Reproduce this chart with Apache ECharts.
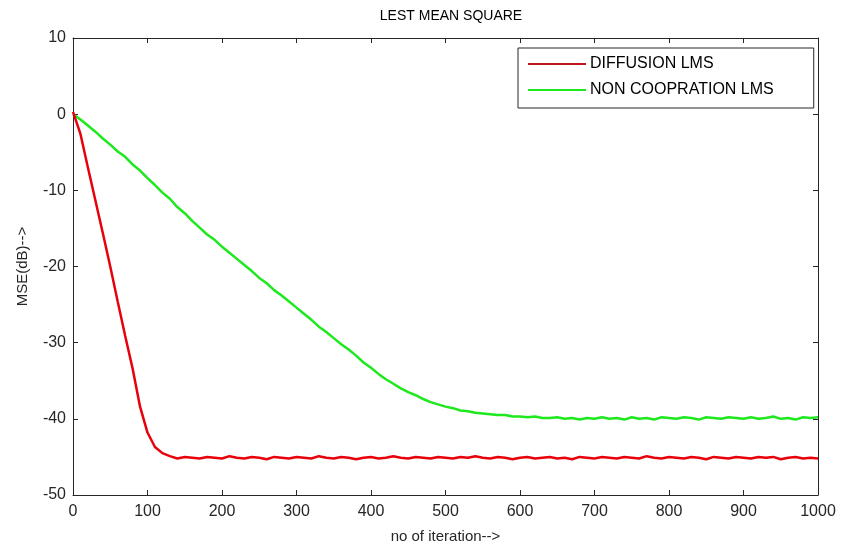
<!DOCTYPE html>
<html>
<head>
<meta charset="utf-8">
<title>LEST MEAN SQUARE</title>
<script src="https://cdn.jsdelivr.net/npm/echarts@6/dist/echarts.min.js"></script>
<style>
  html, body { margin: 0; padding: 0; background: #fff; }
  #chart { width: 841px; height: 549px; }
</style>
</head>
<body>
<div id="chart"></div>
<script>
// sample points every 10 iterations
const iterations = [];
for (let k = 0; k <= 100; k++) iterations.push(k * 10);

const diffusionLms = [
    0.3, -2.6, -7.0, -11.3, -15.6, -20.0, -24.6, -29.1, -33.4, -38.4,
    -41.8, -43.7, -44.5, -44.9, -45.2, -45.0, -45.1, -45.2, -45.0, -45.1,
    -45.2, -44.9, -45.1, -45.2, -45.0, -45.1, -45.3, -45.0, -45.1, -45.2,
    -45.0, -45.1, -45.2, -44.9, -45.1, -45.2, -45.0, -45.1, -45.3, -45.1,
    -45.0, -45.2, -45.1, -44.9, -45.1, -45.2, -45.0, -45.1, -45.2, -45.0,
    -45.1, -45.2, -45.0, -45.1, -44.9, -45.1, -45.2, -45.0, -45.1, -45.3,
    -45.1, -45.0, -45.2, -45.1, -45.0, -45.2, -45.1, -45.3, -45.0, -45.1,
    -45.2, -45.0, -45.1, -45.2, -45.0, -45.1, -45.2, -44.9, -45.1, -45.2,
    -45.0, -45.1, -45.2, -45.0, -45.1, -45.3, -45.0, -45.1, -45.2, -45.0,
    -45.1, -45.2, -45.0, -45.1, -45.0, -45.3, -45.1, -45.0, -45.2, -45.1,
    -45.2
];

const nonCoopLms = [
    0.0, -0.7, -1.5, -2.3, -3.2, -4.0, -4.9, -5.6, -6.6, -7.4,
    -8.4, -9.3, -10.3, -11.1, -12.2, -13.0, -14.0, -14.9, -15.8, -16.5,
    -17.4, -18.2, -19.0, -19.8, -20.6, -21.5, -22.2, -23.1, -23.8, -24.6,
    -25.4, -26.2, -27.0, -27.9, -28.6, -29.4, -30.2, -30.9, -31.7, -32.6,
    -33.3, -34.1, -34.8, -35.4, -36.0, -36.5, -36.9, -37.4, -37.8, -38.1,
    -38.4, -38.6, -38.9, -39.0, -39.2, -39.3, -39.4, -39.5, -39.5, -39.7,
    -39.7, -39.8, -39.7, -39.9, -39.9, -39.8, -40.0, -39.9, -40.1, -39.9,
    -40.0, -39.8, -40.0, -39.9, -40.1, -39.8, -40.0, -39.9, -40.1, -39.8,
    -39.9, -40.0, -39.8, -39.9, -40.1, -39.8, -39.9, -40.0, -39.8, -39.9,
    -40.0, -39.8, -40.0, -39.9, -39.7, -40.0, -39.9, -40.1, -39.8, -39.9,
    -39.8
];

const seriesNames = ['DIFFUSION LMS', 'NON COOPRATION LMS'];
const xTicks = { min: 0, max: 1000, interval: 100 };
const yTicks = { min: -50, max: 10, interval: 10 };

const font = 'Arial, "Liberation Sans", sans-serif';
const axisColor = '#262626';
const redColor = '#e8000a';
const greenColor = '#1ee81e';

function pairs(ys) {
    return iterations.map((x, i) => [x, ys[i]]);
}

function boxAxis(pos, ticks, showLabels) {
    return {
        type: 'value',
        position: pos,
        min: ticks.min,
        max: ticks.max,
        interval: ticks.interval,
        axisLine: { show: true, onZero: false, lineStyle: { color: axisColor, width: 1 } },
        axisTick: { show: true, inside: true, length: 5, lineStyle: { color: axisColor } },
        axisLabel: {
            show: showLabels,
            color: axisColor,
            fontSize: 16,
            fontFamily: font,
            margin: (pos === 'left') ? 7 : 9,
            formatter: (v) => String(v)
        },
        splitLine: { show: false }
    };
}

let myChart = echarts.init(document.getElementById('chart'));

let xBottom = boxAxis('bottom', xTicks, true);
xBottom.name = 'no of iteration-->';
xBottom.nameLocation = 'middle';
xBottom.nameGap = 34;
xBottom.nameTextStyle = { color: axisColor, fontSize: 15, fontFamily: font };

let yLeft = boxAxis('left', yTicks, true);
yLeft.name = 'MSE(dB)-->';
yLeft.nameLocation = 'middle';
yLeft.nameGap = 43;
yLeft.nameTextStyle = { color: axisColor, fontSize: 15, fontFamily: font };

const lineIcon = 'path://M0,0L58,0L58,2L0,2Z';

myChart.setOption({
    backgroundColor: '#fff',
    animation: false,
    title: {
        text: 'LEST MEAN SQUARE',
        left: 446,
        top: 4,
        textAlign: 'center',
        textStyle: { color: '#000', fontSize: 14, fontWeight: 'normal', fontFamily: font }
    },
    grid: { left: 73, right: 23, top: 38, bottom: 54, containLabel: false },
    legend: {
        data: [
            { name: seriesNames[0], icon: lineIcon, itemStyle: { color: '#c0141e' } },
            { name: seriesNames[1], icon: lineIcon, itemStyle: { color: greenColor } }
        ],
        orient: 'vertical',
        left: 518,
        top: 48,
        padding: [8, 40, 10, 10],
        itemWidth: 58,
        itemHeight: 2.5,
        itemGap: 10,
        backgroundColor: '#fff',
        borderColor: axisColor,
        borderWidth: 1,
        borderRadius: 0,
        textStyle: { color: '#000', fontSize: 16, fontFamily: font, padding: [0, 0, 0, -1] }
    },
    xAxis: [xBottom, boxAxis('top', xTicks, false)],
    yAxis: [yLeft, boxAxis('right', yTicks, false)],
    series: [
        {
            name: seriesNames[0],
            type: 'line',
            symbol: 'none',
            data: pairs(diffusionLms),
            lineStyle: { color: redColor, width: 2.5 },
            itemStyle: { color: redColor },
            z: 3
        },
        {
            name: seriesNames[1],
            type: 'line',
            symbol: 'none',
            data: pairs(nonCoopLms),
            lineStyle: { color: greenColor, width: 2.5 },
            itemStyle: { color: greenColor },
            z: 2
        }
    ]
});
</script>
</body>
</html>
